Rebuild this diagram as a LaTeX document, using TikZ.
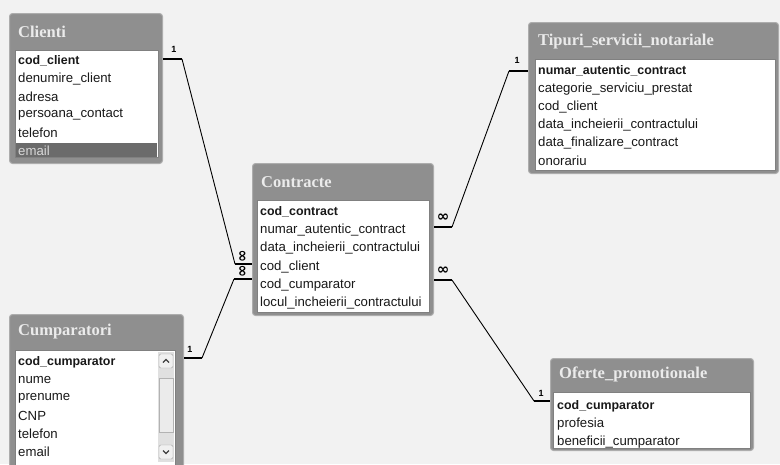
\documentclass[tikz,border=0pt]{standalone}
\usepackage{fontspec}
\setmainfont{Liberation Sans}
\newfontfamily\titlefont{Liberation Serif}
\newfontfamily\symfont{DejaVu Sans}
\begin{document}
\begin{tikzpicture}[x=1pt,y=-1pt,
  frame/.style={draw=black!32, fill=black!44, line width=1pt, rounded corners=3pt,
                inner sep=0pt, anchor=north west},
  list/.style={draw=black!50, fill=white, line width=0.6pt, inner sep=0pt, anchor=north west},
  title/.style={anchor=west, text=white!92!black, inner sep=0pt,
                font=\titlefont\bfseries\fontsize{16.5}{16.5}\selectfont},
  field/.style={anchor=west, inner sep=0pt, text=black!90,
                font=\fontsize{13.2}{14}\selectfont},
  key/.style={field, font=\bfseries\fontsize{12.4}{14}\selectfont},
  rel/.style={line width=0.9pt},
  bar/.style={line width=2.6pt},
  one/.style={inner sep=0pt, font=\bfseries\fontsize{9}{9}\selectfont},
  many/.style={inner sep=0pt, font=\symfont\bfseries\fontsize{15}{15}\selectfont},
]
\useasboundingbox (0,0) rectangle (780,464);
\clip (0,0) rectangle (780,464);
\fill[white!95!black] (0,0) rectangle (780,464);

% ---------- Clienti ----------
\node[frame, minimum width=153, minimum height=150] (clienti) at (9,13) {};
\node[list, minimum width=143, minimum height=107] (clientilist) at (15,50) {};
\node[title] (clientititle) at (18,32) {Clienti};
\fill[black!58] (16,143) rectangle (157,157);
\foreach \t [count=\i] in {denumire\_client,adresa,persoana\_contact,telefon}
  \node[field] (cl\i) at (18,{61+18*\i}) {\t};
\node[key] (cl0) at (18,61) {cod\_client};
\node[field, text=white!85!black] (cl5) at (18,151) {email};

% ---------- Tipuri_servicii_notariale ----------
\node[frame, minimum width=250, minimum height=151] (tipuri) at (528,22) {};
\node[list, minimum width=240, minimum height=111] (tipurilist) at (535,59) {};
\node[title] (tipurititle) at (538,42) {Tipuri\_servicii\_notariale};
\node[key] (tp0) at (538,71) {numar\_autentic\_contract};
\foreach \t [count=\i] in {categorie\_serviciu\_prestat,cod\_client,data\_incheierii\_contractului,data\_finalizare\_contract,onorariu}
  \node[field] (tp\i) at (538,{71+18*\i}) {\t};

% ---------- Contracte ----------
\node[frame, minimum width=181, minimum height=152] (contracte) at (252,163) {};
\node[list, minimum width=172, minimum height=112] (contractelist) at (257,200) {};
\node[title] (contractetitle) at (261,182) {Contracte};
\node[key] (ct0) at (260,212) {cod\_contract};
\foreach \t [count=\i] in {numar\_autentic\_contract,data\_incheierii\_contractului,cod\_client,cod\_cumparator,locul\_incheierii\_contractului}
  \node[field] (ct\i) at (260,{212+18.2*\i}) {\t};

% ---------- Cumparatori ----------
\node[frame, minimum width=174, minimum height=165] (cumparatori) at (9,314) {};
\node[list, minimum width=160, minimum height=125] (cumparatorilist) at (15,350) {};
\node[title] (cumparatorititle) at (18,332) {Cumparatori};
\node[key] (cu0) at (18,362) {cod\_cumparator};
\foreach \t [count=\i] in {nume,prenume,CNP,telefon,email}
  \node[field] (cu\i) at (18,{362+18*\i}) {\t};
% scroll bar
\fill[black!12] (158,352) rectangle (174,462);
\node[draw=black!30, fill=black!8, minimum width=14, minimum height=54, inner sep=0pt] (thumb) at (166,405) {};
\node[draw=black!35, fill=black!6, rounded corners=1.5pt, minimum width=14, minimum height=14, inner sep=0pt] (up) at (166,361) {};
\node[draw=black!35, fill=black!6, rounded corners=1.5pt, minimum width=14, minimum height=14, inner sep=0pt] (down) at (166,452) {};
\draw[line width=1.3pt, black!75] ([xshift=-3,yshift=-1.5]up.center) -- ([yshift=1.5]up.center) -- ([xshift=3,yshift=-1.5]up.center);
\draw[line width=1.3pt, black!75] ([xshift=-3,yshift=1.5]down.center) -- ([yshift=-1.5]down.center) -- ([xshift=3,yshift=1.5]down.center);

% ---------- Oferte_promotionale ----------
\node[frame, minimum width=203, minimum height=92] (oferte) at (550,358) {};
\node[list, minimum width=197, minimum height=56] (ofertelist) at (553,392) {};
\node[title] (ofertetitle) at (559,374) {Oferte\_promotionale};
\node[key] (of0) at (557,406) {cod\_cumparator};
\foreach \t [count=\i] in {profesia,beneficii\_cumparator}
  \node[field] (of\i) at (557,{406+18*\i}) {\t};

% ---------- relationships ----------
% Clienti (1) -- Contracte (many)
\coordinate (k1) at (182,59);
\coordinate (k2) at (235,264);
\draw[bar] (clienti.east |- k1) -- (k1);
\draw[rel] (k1) -- (k2);
\draw[bar] (k2) -- (contracte.west |- k2);
\node[one] (n1) at (174,49) {1};
\node[many, rotate=90] (m1) at (243,256) {∞};

% Cumparatori (1) -- Contracte (many)
\coordinate (k3) at (202,358);
\coordinate (k4) at (234,279);
\draw[bar] (cumparatori.east |- k3) -- (k3);
\draw[rel] (k3) -- (k4);
\draw[bar] (k4) -- (contracte.west |- k4);
\node[one] (n2) at (190,349) {1};
\node[many, rotate=90] (m2) at (243,271) {∞};

% Contracte (many) -- Tipuri_servicii_notariale (1)
\coordinate (k5) at (452,227);
\coordinate (k6) at (509,71);
\draw[bar] (contracte.east |- k5) -- (k5);
\draw[rel] (k5) -- (k6);
\draw[bar] (k6) -- (tipuri.west |- k6);
\node[many] (m3) at (443,218) {∞};
\node[one] (n3) at (517,60) {1};

% Contracte (many) -- Oferte_promotionale (1)
\coordinate (k7) at (452,280);
\coordinate (k8) at (534,401);
\draw[bar] (contracte.east |- k7) -- (k7);
\draw[rel] (k7) -- (k8);
\draw[bar] (k8) -- (oferte.west |- k8);
\node[many] (m4) at (443,271) {∞};
\node[one] (n4) at (541,393) {1};
\end{tikzpicture}
\end{document}
